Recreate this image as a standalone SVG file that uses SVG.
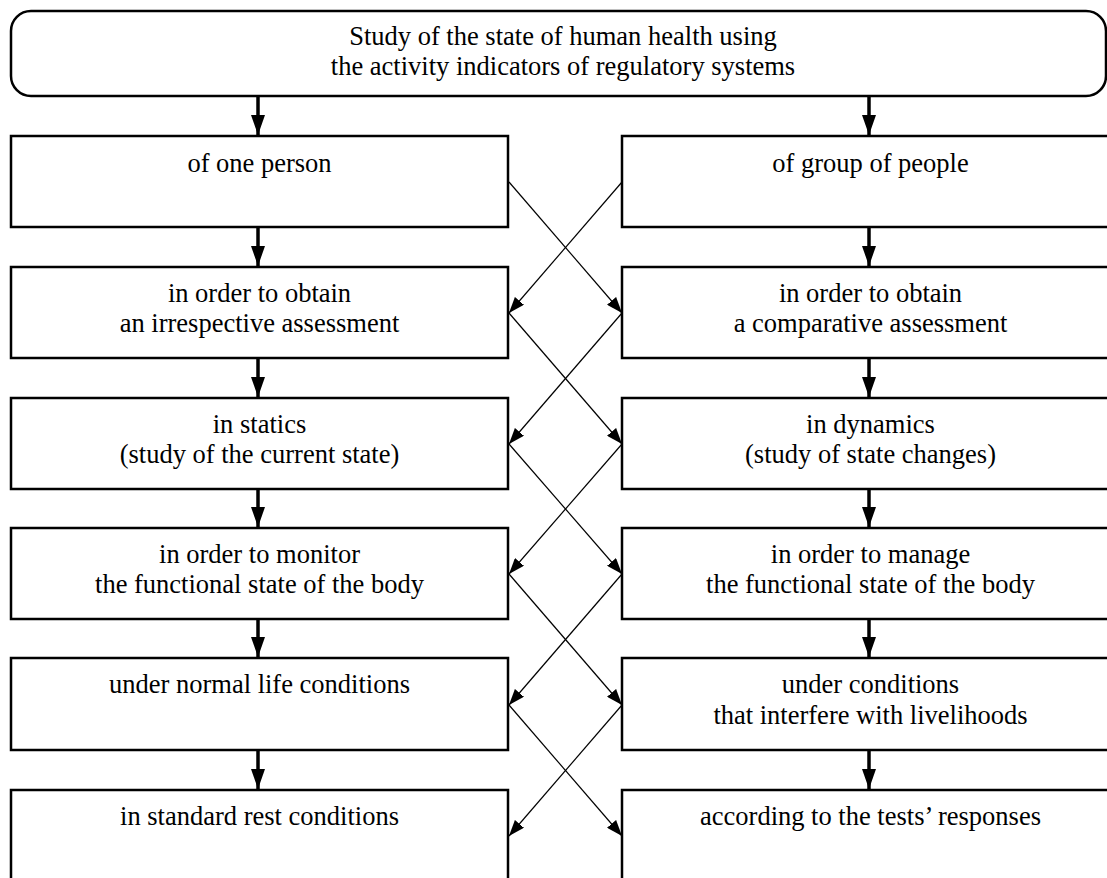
<svg xmlns="http://www.w3.org/2000/svg" width="1107" height="878" viewBox="0 0 1107 878">
<defs>
<style>
.box{fill:#fff;stroke:#000;stroke-width:2.5}
.t{font-family:"Liberation Serif","Times New Roman",serif;font-size:26.5px;fill:#000;text-anchor:middle}
.thick{stroke:#000;stroke-width:3.5;fill:none}
.thin{stroke:#000;stroke-width:1.2;fill:none}
</style>
<marker id="bigHead" viewBox="0 0 20 14" refX="20" refY="7" markerWidth="20" markerHeight="14" markerUnits="userSpaceOnUse" orient="auto">
<path d="M0,0 L20,7 L0,14 Z" fill="#000"/>
</marker>
<marker id="smallHead" viewBox="0 0 16 12" refX="16" refY="6" markerWidth="16" markerHeight="12" markerUnits="userSpaceOnUse" orient="auto">
<path d="M0,0 L16,6 L0,12 Z" fill="#000"/>
</marker>
</defs>
<rect width="1107" height="878" fill="#fff"/>

<g id="top">
<rect class="box" x="11" y="11" width="1095" height="85" rx="20" ry="20"/>
<text class="t" x="563" y="45">Study of the state of human health using</text>
<text class="t" x="563" y="75">the activity indicators of regulatory systems</text>
</g>

<g id="l1"><rect class="box" x="11" y="136" width="497" height="91"/>
<text class="t" x="259.5" y="172">of one person</text></g>
<g id="r1"><rect class="box" x="622" y="136" width="497" height="91"/>
<text class="t" x="870.5" y="172">of group of people</text></g>

<g id="l2"><rect class="box" x="11" y="267" width="497" height="91"/>
<text class="t" x="259.5" y="302">in order to obtain</text><text class="t" x="259.5" y="332">an irrespective assessment</text></g>
<g id="r2"><rect class="box" x="622" y="267" width="497" height="91"/>
<text class="t" x="870.5" y="302">in order to obtain</text><text class="t" x="870.5" y="332">a comparative assessment</text></g>

<g id="l3"><rect class="box" x="11" y="398" width="497" height="91"/>
<text class="t" x="259.5" y="433">in statics</text><text class="t" x="259.5" y="463">(study of the current state)</text></g>
<g id="r3"><rect class="box" x="622" y="398" width="497" height="91"/>
<text class="t" x="870.5" y="433">in dynamics</text><text class="t" x="870.5" y="463">(study of state changes)</text></g>

<g id="l4"><rect class="box" x="11" y="528" width="497" height="91"/>
<text class="t" x="259.5" y="563">in order to monitor</text><text class="t" x="259.5" y="593">the functional state of the body</text></g>
<g id="r4"><rect class="box" x="622" y="528" width="497" height="91"/>
<text class="t" x="870.5" y="563">in order to manage</text><text class="t" x="870.5" y="593">the functional state of the body</text></g>

<g id="l5"><rect class="box" x="11" y="658" width="497" height="92"/>
<text class="t" x="259.5" y="693">under normal life conditions</text></g>
<g id="r5"><rect class="box" x="622" y="658" width="497" height="92"/>
<text class="t" x="870.5" y="693">under conditions</text><text class="t" x="870.5" y="724">that interfere with livelihoods</text></g>

<g id="l6"><rect class="box" x="11" y="790" width="497" height="120"/>
<text class="t" x="259.5" y="825">in standard rest conditions</text></g>
<g id="r6"><rect class="box" x="622" y="790" width="497" height="120"/>
<text class="t" x="870.5" y="825">according to the tests’ responses</text></g>

<g id="connectors">
<line class="thick" x1="258" y1="97" x2="258" y2="135" marker-end="url(#bigHead)"/>
<line class="thick" x1="869" y1="97" x2="869" y2="135" marker-end="url(#bigHead)"/>
<line class="thick" x1="258" y1="228" x2="258" y2="266" marker-end="url(#bigHead)"/>
<line class="thick" x1="869" y1="228" x2="869" y2="266" marker-end="url(#bigHead)"/>
<line class="thick" x1="258" y1="359" x2="258" y2="397" marker-end="url(#bigHead)"/>
<line class="thick" x1="869" y1="359" x2="869" y2="397" marker-end="url(#bigHead)"/>
<line class="thick" x1="258" y1="490" x2="258" y2="527" marker-end="url(#bigHead)"/>
<line class="thick" x1="869" y1="490" x2="869" y2="527" marker-end="url(#bigHead)"/>
<line class="thick" x1="258" y1="620" x2="258" y2="657" marker-end="url(#bigHead)"/>
<line class="thick" x1="869" y1="620" x2="869" y2="657" marker-end="url(#bigHead)"/>
<line class="thick" x1="258" y1="751" x2="258" y2="789" marker-end="url(#bigHead)"/>
<line class="thick" x1="869" y1="751" x2="869" y2="789" marker-end="url(#bigHead)"/>

<line class="thin" x1="509" y1="182" x2="622" y2="313" marker-end="url(#smallHead)"/>
<line class="thin" x1="622" y1="182" x2="509" y2="313" marker-end="url(#smallHead)"/>
<line class="thin" x1="509" y1="313" x2="622" y2="444" marker-end="url(#smallHead)"/>
<line class="thin" x1="622" y1="313" x2="509" y2="444" marker-end="url(#smallHead)"/>
<line class="thin" x1="509" y1="444" x2="622" y2="574" marker-end="url(#smallHead)"/>
<line class="thin" x1="622" y1="444" x2="509" y2="574" marker-end="url(#smallHead)"/>
<line class="thin" x1="509" y1="574" x2="622" y2="705" marker-end="url(#smallHead)"/>
<line class="thin" x1="622" y1="574" x2="509" y2="705" marker-end="url(#smallHead)"/>
<line class="thin" x1="509" y1="705" x2="622" y2="836" marker-end="url(#smallHead)"/>
<line class="thin" x1="622" y1="705" x2="509" y2="836" marker-end="url(#smallHead)"/>
</g>
</svg>
